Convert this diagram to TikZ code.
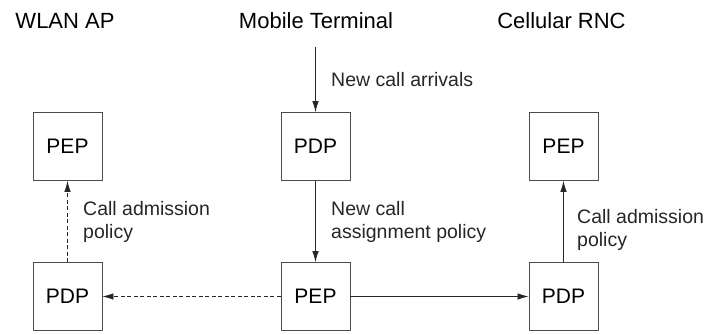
\documentclass[tikz,border=0pt]{standalone}
\usepackage{fontspec}
\setmainfont{Liberation Sans}
\usetikzlibrary{arrows.meta}

\tikzset{
  box/.style={draw=black!70, line width=0.8pt, minimum width=69pt, minimum height=68pt, inner sep=0pt, font=\fontsize{21}{24}\selectfont},
  title/.style={font=\fontsize{22}{26}\selectfont, anchor=base},
  lbl/.style={font=\fontsize{19.5}{23}\selectfont, align=left, anchor=west},
  flow/.style={-{Latex[length=11pt,width=6.5pt]}, black!85, line width=0.7pt},
  flowdash/.style={flow, dash pattern=on 4pt off 2.5pt}
}

\begin{document}
\begin{tikzpicture}[x=1pt,y=-1pt]
    \useasboundingbox (0,0) rectangle (705,335);
    % column titles
    \node[title] (wlan) at (65,28) {WLAN AP};
    \node[title] (mt) at (316,28) {Mobile Terminal};
    \node[title] (rnc) at (561.5,28) {Cellular RNC};
    % boxes
    \node[box] (wpep) at (67.5,146.5) {PEP};
    \node[box] (mpdp) at (315.5,146.5) {PDP};
    \node[box] (cpep) at (563.5,146.5) {PEP};
    \node[box] (wpdp) at (67.5,296.5) {PDP};
    \node[box] (mpep) at (315.5,296.5) {PEP};
    \node[box] (cpdp) at (563.5,296.5) {PDP};
    \coordinate (arr) at (315.5,47);
    % connectors
    \draw[flow] (arr) -- (mpdp.north) node[lbl, midway, xshift=12pt] {New call arrivals};
    \draw[flow] (mpdp) -- (mpep) node[lbl, midway, xshift=12pt] {New call\\assignment policy};
    \draw[flowdash] (wpdp) -- (wpep) node[lbl, midway, xshift=12pt] {Call admission\\policy};
    \draw[flow] (cpdp) -- (cpep) node[lbl, midway, yshift=-8pt, xshift=10pt] {Call admission\\policy};
    \draw[flowdash] (mpep) -- (wpdp);
    \draw[flow] (mpep) -- (cpdp);
\end{tikzpicture}
\end{document}
